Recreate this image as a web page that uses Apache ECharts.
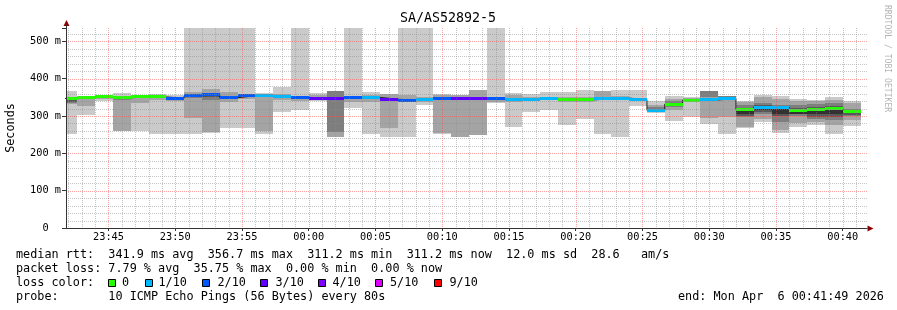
<!DOCTYPE html>
<html>
<head>
<meta charset="utf-8">
<script src="https://cdn.jsdelivr.net/npm/echarts@6/dist/echarts.min.js"></script>
<style>html,body{margin:0;padding:0;background:#fff}#c{width:897px;height:310px}</style>
</head>
<body>
<div id="c"></div>
<script>
// ---------------- data ----------------
const ABOVE = 1000; // ping above the top of the graph (drawn to the top)
const binEnds = ['23:42:40','23:44:00','23:45:20','23:46:40','23:48:00','23:49:20','23:50:40','23:52:00','23:53:20','23:54:40',
  '23:56:00','23:57:20','23:58:40','00:00:00','00:01:20','00:02:40','00:04:00','00:05:20','00:06:40','00:08:00',
  '00:09:20','00:10:40','00:12:00','00:13:20','00:14:40','00:16:00','00:17:20','00:18:40','00:20:00','00:21:20',
  '00:22:40','00:24:00','00:25:20','00:26:40','00:28:00','00:29:20','00:30:40','00:32:00','00:33:20','00:34:40',
  '00:36:00','00:37:20','00:38:40','00:40:00','00:41:20'];
const medianMs = [347,350,351,349,351,351,348,354,356.7,349,354,354,351,350,347,347,349,350,345,342,
  345,347,347,347,347,344,345,346,344,343,346,348,344,315,332,342,343,347,318,324,324,316,318,319,311.2];
const lossCount = [0,0,0,0,0,0,2,2,2,2,2,1,1,2,3,3,2,1,3,2,1,2,3,3,2,1,1,1,0,0,1,1,1,1,0,0,1,1,0,1,1,0,0,0,0];
const smoke1Lo = [253,303,341,259,259,253,253,253,254,267,267,253,310,315,339,null,321,253,245,245,
  330,253,null,null,335,270,312,315,277,293,251,245,326,307,286,296,278,251,268,284,254,270,277,253,272];
const smoke1Hi = [366,352,357,361,357,358,356,ABOVE,ABOVE,ABOVE,ABOVE,361,377,ABOVE,362,null,ABOVE,363,359,ABOVE,
  ABOVE,360,null,null,ABOVE,361,359,365,365,369,367,370,370,341,353,350,366,354,340,356,354,345,344,350,341];
const smoke2Lo = [332,326,345,259,336,343,340,294,256,338,345,260,343,340,342,245,338,338,267,338,
  338,254,245,248,337,337,340,342,338,338,345,343,null,310,317,338,294,297,270,292,262,282,285,276,290];
const smoke2Hi = [352,346,354,345,351,352,350,364,373,364,356,352,360,352,355,366,352,355,359,357,
  350,355,357,370,352,356,352,352,350,350,366,354,null,330,345,347,366,352,338,352,345,340,340,344,335];
const smoke3Lo = [335,345,null,343,null,null,null,347,343,null,null,null,null,null,null,256,null,null,null,340,
  null,null,null,null,null,null,null,null,null,null,null,null,null,315,325,null,350,345,298,305,285,300,292,290,300];
const smoke3Hi = [350,348,null,346,null,null,null,352,362,null,null,null,null,null,null,366,null,null,null,346,
  null,null,null,null,null,null,null,null,null,null,null,null,null,325,339,null,366,353,330,335,330,330,332,335,320];
const smoke4Lo = [338,null,null,null,null,null,null,null,350,null,null,null,null,null,null,null,null,null,null,null,
  null,null,null,null,null,null,null,null,null,null,null,null,null,null,328,null,null,null,300,312,300,305,298,298,304];
const smoke4Hi = [344,null,null,null,null,null,null,null,354,null,null,null,null,null,null,null,null,null,null,null,
  null,null,null,null,null,null,null,null,null,null,null,null,null,null,335,null,null,null,322,330,328,322,325,326,310];
const smoke5Lo = [null,null,null,null,null,null,null,null,null,null,null,null,null,null,null,null,null,null,null,null,
  null,null,null,null,null,null,null,null,null,null,null,null,null,null,null,null,null,null,306,315,305,305,305,305,null];
const smoke5Hi = [null,null,null,null,null,null,null,null,null,null,null,null,null,null,null,null,null,null,null,null,
  null,null,null,null,null,null,null,null,null,null,null,null,null,null,null,null,null,null,316,325,322,315,316,318,null];
const xTickLabels = ['23:45','23:50','23:55','00:00','00:05','00:10','00:15','00:20','00:25','00:30','00:35','00:40'];
const yTickValues = [0,100,200,300,400,500];
const lossThresholds = [0,1,2,3,4,5,9];
const lossLabels = ['0','1/10','2/10','3/10','4/10','5/10','9/10'];
const lossColors = ['#26ff00','#00b8ff','#0059ff','#5e00ff','#7e00ff','#dd00ff','#ff0000'];
const titleText = 'SA/AS52892-5';
const statLines = [
  'median rtt:  341.9 ms avg  356.7 ms max  311.2 ms min  311.2 ms now  12.0 ms sd  28.6   am/s',
  'packet loss: 7.79 % avg  35.75 % max  0.00 % min  0.00 % now'
];
const probeLine = 'probe:       10 ICMP Echo Pings (56 Bytes) every 80s';
const endLine = 'end: Mon Apr  6 00:41:49 2026';

// ---------------- helpers ----------------
function toMin(s){ const p = s.split(':').map(Number); let h = p[0]; if (h >= 12) h -= 24; return h*60 + p[1] + (p[2]||0)/60; }
const STEP_MIN = 80/60;
const X_MIN = toMin('23:41:49'), X_MAX = toMin('00:41:49');
const Y_MAX = 535.7;
const MONO = '"DejaVu Sans Mono", monospace';
const SMOKE = ['#cacaca','#a4a4a4','#7e7e7e','#585858','#323232'];
const ends = binEnds.map(toMin);
const starts = ends.map((e,i)=> i===0 ? e-STEP_MIN : ends[i-1]);
function lossColor(c){ let col = lossColors[0]; lossThresholds.forEach((t,i)=>{ if (c >= t) col = lossColors[i]; }); return col; }
function fmtMin(v){ let m = Math.round(v); if (m < 0) m += 1440; const h = Math.floor(m/60), mm = m%60; return String(h).padStart(2,'0')+':'+String(mm).padStart(2,'0'); }

function bandSeries(lo, hi, color){
  const data = [];
  lo.forEach((l,i)=>{ if (l != null && hi[i] != null) data.push([starts[i], ends[i], l, hi[i]]); });
  return {
    type:'custom', silent:true, z:2, data, encode:{x:[0,1], y:[2,3]},
    renderItem(params, api){
      const cs = params.coordSys;
      const a = api.coord([api.value(0), Math.min(api.value(3), Y_MAX)]);
      const b = api.coord([api.value(1), api.value(2)]);
      const left = Math.round(Math.max(a[0], cs.x)), right = Math.round(Math.min(b[0], cs.x+cs.width));
      const top = Math.round(Math.max(a[1], cs.y)), bottom = Math.round(b[1]);
      return {type:'rect', shape:{x:left, y:top, width:right-left, height:bottom-top}, style:{fill:color}};
    }
  };
}

const series = [];
series.push(bandSeries(smoke1Lo, smoke1Hi, SMOKE[0]));
series.push(bandSeries(smoke2Lo, smoke2Hi, SMOKE[1]));
series.push(bandSeries(smoke3Lo, smoke3Hi, SMOKE[2]));
series.push(bandSeries(smoke4Lo, smoke4Hi, SMOKE[3]));
series.push(bandSeries(smoke5Lo, smoke5Hi, SMOKE[4]));
// median step line
series.push({
  type:'line', step:'start', symbol:'none', silent:true, z:3,
  data: [[starts[0], medianMs[0]]].concat(ends.map((e,i)=>[e, medianMs[i]])),
  lineStyle:{color:'#202020', width:1}
});
// loss-coloured median band
series.push({
  type:'custom', silent:true, z:4, encode:{x:[0,1], y:2},
  data: medianMs.map((m,i)=>[starts[i], ends[i], m, lossCount[i]]),
  renderItem(params, api){
    const cs = params.coordSys;
    const a = api.coord([api.value(0), api.value(2)]);
    const b = api.coord([api.value(1), api.value(2)]);
    const left = Math.round(Math.max(a[0], cs.x)), right = Math.round(Math.min(b[0], cs.x+cs.width));
    const top = Math.round(a[1]-1.5);
    return {type:'rect', shape:{x:left, y:top, width:right-left, height:3}, style:{fill:lossColor(api.value(3))}};
  }
});
// grid lines (drawn over the data like rrdtool)
const gridMinutes = []; for (let m = Math.ceil(X_MIN); m <= Math.floor(X_MAX); m++) gridMinutes.push([m, 0]);
series.push({
  type:'custom', silent:true, z:5, encode:{x:0, y:1}, data: gridMinutes,
  renderItem(params, api){
    const cs = params.coordSys; const v = api.value(0);
    const x = Math.round(api.coord([v, 0])[0]) + 0.5;
    const major = Math.round(v) % 5 === 0;
    return {type:'line', shape:{x1:x, y1:cs.y, x2:x, y2:cs.y+cs.height},
      style:{stroke: major ? 'rgba(255,70,70,0.5)' : 'rgba(140,140,140,0.5)', lineWidth:1, lineDash:[1,1]}};
  }
});
const gridMs = []; for (let v = 20; v < Y_MAX; v += 20) gridMs.push([X_MIN, v]);
series.push({
  type:'custom', silent:true, z:5, encode:{x:0, y:1}, data: gridMs,
  renderItem(params, api){
    const cs = params.coordSys; const v = api.value(1);
    const y = Math.round(api.coord([X_MIN, v])[1]) + 0.5;
    const major = Math.round(v) % 100 === 0;
    return {type:'line', shape:{x1:cs.x, y1:y, x2:cs.x+cs.width, y2:y},
      style:{stroke: major ? 'rgba(255,70,70,0.5)' : 'rgba(140,140,140,0.5)', lineWidth:1, lineDash:[1,1]}};
  }
});

const xTickVals = xTickLabels.map(s=>toMin(s+':00'));

// graphic: title, unit, watermark, legend
const graphic = [];
function txt(x, y, text, size, opts){
  return Object.assign({type:'text', x, y, silent:true, style:{text, font: size+'px '+MONO, fill:'#000',
    textAlign:'left', textVerticalAlign:'middle', align:'left', verticalAlign:'middle'}}, opts||{});
}
graphic.push(txt(448, 19, titleText, 13.3, {style:{text:titleText, font:'13.3px '+MONO, fill:'#000', textAlign:'center', align:'center', textVerticalAlign:'middle', verticalAlign:'middle'}}));
graphic.push(txt(11, 128, 'Seconds', 11.8, {rotation:Math.PI/2, style:{text:'Seconds', font:'11.8px '+MONO, fill:'#000', textAlign:'center', align:'center', textVerticalAlign:'middle', verticalAlign:'middle'}}));
graphic.push(txt(887, 5, 'RRDTOOL / TOBI OETIKER', 8.1, {rotation:-Math.PI/2, style:{text:'RRDTOOL / TOBI OETIKER', font:'8.1px '+MONO, fill:'#b4b4b4', textAlign:'left', align:'left', textVerticalAlign:'middle', verticalAlign:'middle'}}));
graphic.push(txt(16, 255, statLines[0], 11.8));
graphic.push(txt(16, 268.8, statLines[1], 11.8));
graphic.push(txt(16, 283, 'loss color:', 11.8));
const boxX = [108.5,145.5,202.5,260.5,318.5,375.5,434.5];
const lblX = [122,158.5,217.5,275.5,332.5,390,449.5];
lossLabels.forEach((l,i)=>{
  graphic.push({type:'rect', silent:true, shape:{x:boxX[i], y:279.5, width:7, height:7}, style:{fill:lossColors[i], stroke:'#000', lineWidth:1}});
  graphic.push(txt(lblX[i], 283, l, 11.8));
});
graphic.push(txt(16, 297, probeLine, 11.8));
graphic.push(txt(678, 297, endLine, 11.8));
// axis arrows
graphic.push({type:'polygon', silent:true, shape:{points:[[66.5,20],[63.5,26],[69.5,26]]}, style:{fill:'#8b0000'}});
graphic.push({type:'line', silent:true, shape:{x1:66.5,y1:25,x2:66.5,y2:28}, style:{stroke:'#333', lineWidth:1}});
graphic.push({type:'polygon', silent:true, shape:{points:[[873.5,228.5],[867.5,225.5],[867.5,231.5]]}, style:{fill:'#8b0000'}});
graphic.push({type:'line', silent:true, shape:{x1:62,y1:228.5,x2:66,y2:228.5}, style:{stroke:'#333', lineWidth:1}});

const chart = echarts.init(document.getElementById('c'), null, {renderer:'canvas'});
chart.setOption({
  animation:false,
  backgroundColor:'#fff',
  grid:{left:66, top:28, width:801, height:200, containLabel:false, outerBoundsMode:'none'},
  xAxis:{
    type:'value', min:X_MIN, max:X_MAX, z:6,
    axisLine:{show:true, onZero:false, lineStyle:{color:'#333', width:1}},
    axisTick:{show:true, length:3, customValues:xTickVals, lineStyle:{color:'#333'}},
    axisLabel:{customValues:xTickVals, formatter:fmtMin, fontFamily:MONO, fontSize:10.3, color:'#000', margin:4},
    splitLine:{show:false}
  },
  yAxis:{
    type:'value', min:0, max:Y_MAX, interval:100, z:6,
    axisLine:{show:true, onZero:false, lineStyle:{color:'#333', width:1}},
    axisTick:{show:true, length:4, lineStyle:{color:'#333'}},
    axisLabel:{fontFamily:MONO, fontSize:10.3, color:'#000', margin:5,
      formatter:v=> yTickValues.indexOf(v) < 0 ? '' : (v===0 ? '0  ' : v+' m')},
    splitLine:{show:false}
  },
  series,
  graphic
});
</script>
</body>
</html>
